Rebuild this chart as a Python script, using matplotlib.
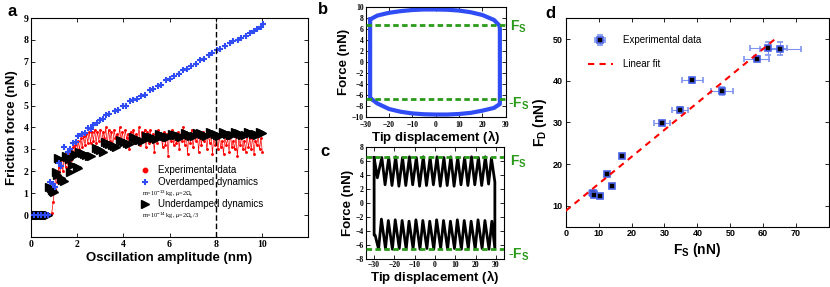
import numpy as np
import matplotlib
matplotlib.use("Agg")
import matplotlib.pyplot as plt

plt.rcParams['font.family'] = ['Liberation Sans', 'DejaVu Sans']
plt.rcParams['mathtext.fontset'] = 'custom'
plt.rcParams['mathtext.rm'] = 'Liberation Sans'
plt.rcParams['mathtext.bf'] = 'Liberation Sans:bold'
plt.rcParams['mathtext.it'] = 'Liberation Sans:italic'

# ---------------- panel a data ----------------
red_x0, red_dx = 0.90, 0.06
red_y = [0.1,0.6,1.2,1.9,1.5,2.2,1.8,2.5,2.0,2.7,2.2,2.9,2.4,2.9,2.5,3.1,2.7,3.2,2.8,3.4,
         3.0,3.5,3.1,3.6,3.2,3.7,3.3,3.8,3.3,3.8,3.4,3.9,3.3,3.8,3.4,
         3.9,3.3,3.8,3.5,4.0,3.2,3.9,3.4,3.8,3.1,3.9,3.5,3.7,3.3,4.0,3.4,3.8,3.2,3.9,3.5,
         3.7,3.0,3.8,3.4,3.9,3.3,3.7,3.5,4.0,3.2,3.8,3.4,3.9,3.1,
         3.8,3.3,3.9,3.4,3.7,2.9,3.8,3.3,3.9,3.5,3.6,3.1,3.8,3.2,3.7,2.7,3.8,3.4,3.9,3.2,
         3.6,3.3,3.8,3.0,3.7,3.4,4.0,3.2,3.8,2.8,3.7,3.3,3.9,3.1,3.6,3.4,3.8,2.9,3.7,3.2,
         3.8,3.4,3.6,3.0,3.7,3.3,3.8,2.8,3.6,3.2,
         3.5,3.0,3.6,3.1,3.4,2.8,3.6,3.2,3.5,2.9,3.7,3.1,3.4,3.0,3.6,2.7,3.5,3.2,3.6,3.0,
         3.4,2.9,3.7,3.1,3.5,3.0,3.6,2.8,3.4,3.2,3.6,3.0,3.5,2.9]
red_x = red_x0 + red_dx * np.arange(len(red_y))

over_x = [0.15,0.3,0.45,0.6,0.75,
          0.83,0.94,1.05,1.2,1.3,1.45,1.6,1.67,1.81,1.95,
          2.03,2.22,2.35,2.46,2.6,2.68,2.85,2.97,3.1,3.26,
          3.4,3.62,3.75,3.98,4.1,4.27,4.42,4.6,4.75,4.95,
          5.14,5.3,5.5,5.65,5.87,6.0,6.2,6.4,6.59,6.75,
          6.95,7.15,7.32,7.5,7.7,7.85,8.04,8.2,8.4,8.6,
          8.77,8.95,9.1,9.3,9.49,9.65,9.8,9.95,10.07]
over_y = [0,0,0,0,0,
          1.52,1.4,1.3,2.39,2.25,3.1,2.9,3.0,3.3,3.35,
          3.6,3.7,3.75,3.98,3.95,4.13,4.2,4.36,4.4,4.56,
          4.6,4.74,4.8,4.97,5.0,5.2,5.27,5.3,5.45,5.5,
          5.73,5.75,5.9,5.95,6.19,6.2,6.35,6.45,6.64,6.65,
          6.8,6.9,7.1,7.15,7.3,7.4,7.56,7.6,7.7,7.85,
          7.93,8.0,8.1,8.2,8.32,8.4,8.5,8.6,8.74]

under_x = [0.10,0.15,0.20,0.25,0.30,0.35,0.40,0.45,0.50,0.55,0.60,0.65,0.70,0.75,
           0.80,0.85,0.90,0.95,1.00,
           1.08,1.13,1.18,1.23,1.28,1.35,1.42,
           1.50,1.57,1.64,1.70,1.78,1.85,1.92,1.98,2.05,
           2.10,2.20,2.30,2.40,2.50,2.60,
           2.80,2.90,3.00,3.10,
           3.20,3.30,3.40,3.50,3.60,3.70,
           3.85,3.95,4.05,4.15,4.25,
           4.40,4.50,4.60,4.70,4.80,
           5.00,5.10,5.20,5.30,5.40,
           5.55,5.65,5.75,5.85,5.95,
           6.10,6.20,6.30,6.40,6.50,
           6.65,6.75,6.85,6.95,7.05,
           7.20,7.30,7.40,7.50,7.60,
           7.75,7.85,7.95,8.05,8.15,
           8.30,8.40,8.50,8.60,8.70,
           8.85,8.95,9.05,9.15,9.25,
           9.40,9.50,9.60,9.70,9.80,
           9.90,10.0]
under_y = [0,0,0,0,0,0,0,0,0,0,0,0,0,0,
           1.30,1.22,1.15,1.08,1.05,
           1.95,1.85,2.62,2.55,1.68,1.60,1.55,
           2.70,2.65,2.55,1.95,2.30,2.80,2.75,2.18,2.15,
           2.90,2.85,2.80,2.75,2.70,2.68,
           3.05,3.00,2.95,2.90,
           3.35,3.30,3.25,3.20,3.15,3.12,
           3.45,3.40,3.35,3.30,3.25,
           3.55,3.50,3.45,3.42,3.38,
           3.62,3.58,3.55,3.50,3.48,
           3.70,3.66,3.62,3.58,3.55,
           3.72,3.68,3.64,3.60,3.57,
           3.75,3.71,3.67,3.63,3.60,
           3.77,3.73,3.69,3.65,3.62,
           3.78,3.74,3.70,3.66,3.63,
           3.79,3.75,3.71,3.67,3.64,
           3.80,3.76,3.72,3.68,3.65,
           3.80,3.76,3.72,3.69,3.66,
           3.78,3.74]
a_vline = 8

# ---------------- panel b data ----------------
b_x = [-28.1,-25,-20,-15,-10,-5,0,5,10,15,20,25,27.3,27.5,
       27.5,25,20,15,10,5,0,-5,-10,-15,-20,-25,-28.1,-28.1,-28.1]
b_y = [7.7,8.4,8.9,9.2,9.4,9.5,9.5,9.45,9.3,9.0,8.5,7.6,6.6,6.0,
       -7.6,-8.3,-8.8,-9.2,-9.4,-9.5,-9.5,-9.45,-9.3,-9.0,-8.5,-7.5,-6.5,-6.2,7.7]
b_fs = 6.7

# ---------------- panel c data ----------------
c_x = [-30.0,-28.4,-26.2,-24.6,-22.8,-21.2,-19.4,-17.8,-16.0,-14.4,-12.6,-11.0,-9.2,-7.6,
       -5.8,-4.2,-2.4,-0.8,1.0,2.6,4.4,6.0,7.8,9.4,11.2,12.8,14.6,16.2,18.0,19.6,
       21.4,23.0,24.8,26.4,27.8,29.5,
       29.5,28.0,26.6,24.6,23.2,21.2,19.8,17.8,16.4,14.4,13.0,11.0,9.6,7.6,6.2,
       4.2,2.8,0.8,-0.6,-2.6,-4.0,-6.0,-7.4,-9.4,-10.8,-12.8,-14.2,-16.2,-17.6,
       -19.6,-21.0,-23.0,-24.4,-26.4,-27.8,-29.5,-30.0,-30.0]
c_y = [6.5,3.6,6.5,2.6,6.5,2.5,6.6,2.4,6.5,2.5,6.6,2.6,6.5,2.4,
       6.6,2.5,6.5,2.6,6.6,2.4,6.5,2.5,6.6,2.4,6.5,2.6,6.5,2.5,6.6,2.6,
       6.5,2.5,6.6,2.7,6.4,3.0,
       -6.5,-2.6,-6.6,-2.5,-6.5,-2.4,-6.6,-2.6,-6.5,-2.5,-6.6,-2.4,-6.5,-2.6,-6.6,
       -2.5,-6.5,-2.4,-6.6,-2.6,-6.5,-2.5,-6.6,-2.4,-6.5,-2.6,-6.6,-2.5,-6.5,
       -2.4,-6.6,-2.5,-6.5,-2.3,-6.6,-4.6,-4.6,6.5]
c_fs = 6.6

# ---------------- panel d data ----------------
d_fs = [8.2,8.7,10.5,12.7,14.0,17.2,29.3,34.7,38.5,47.4,58.0,61.5,65.2]
d_fd = [13.0,12.7,12.3,17.7,14.8,22.0,29.9,33.0,40.1,37.5,45.3,47.8,47.7]
d_xerr = [1.2,0.8,0.7,0.6,0.8,0.5,2.4,2.4,3.1,3.4,3.8,5.6,6.3]
d_yerr = [0.5,0.5,0.5,0.5,0.5,0.4,0.5,0.6,0.6,1.0,0.6,1.5,1.5]
fit_x = [0, 64.2]
fit_y = [8.8, 50.4]

# ---------------- styling ----------------
LABF = dict(fontsize=9.5, fontweight='bold')
GREEN = '#2a9a1a'
BLUE = '#2f4cf5'

fig = plt.figure(figsize=(8.3, 2.87), dpi=100)

def style_ax(ax, size, family='Liberation Serif', pad=2, xpad=None):
    ax.tick_params(direction='in', top=True, right=True, length=3, width=0.6, labelsize=size, pad=pad)
    if xpad is not None:
        ax.tick_params(axis='x', pad=xpad)
    for lab in ax.get_xticklabels() + ax.get_yticklabels():
        lab.set_fontfamily(family)
        lab.set_fontweight('bold')
    for s in ax.spines.values():
        s.set_linewidth(0.8)

# ----- panel a -----
axa = fig.add_axes([31/830, 1-237/287, 277/830, 219/287])
axa.plot(red_x, red_y, color='red', lw=0.5, marker='.', ms=2.2, zorder=2)
axa.plot(under_x, under_y, ls='none', marker='>', ms=5.2, color='black', zorder=3)
axa.plot(over_x, over_y, ls='none', marker='+', ms=5, mew=1.5, color=BLUE, zorder=4)
axa.axvline(a_vline, color='black', ls='--', lw=1.0, dashes=(4, 2), zorder=5)
axa.set_xlim(0, 12)
axa.set_ylim(-1, 9)
axa.set_xticks([0, 2, 4, 6, 8, 10])
axa.set_yticks(range(0, 10))
style_ax(axa, 7)
axa.set_xlabel('Oscillation amplitude (nm)', labelpad=2, fontsize=9.5, fontweight='bold')
axa.set_ylabel('Friction force (nN)', labelpad=4, fontsize=9.5, fontweight='bold')
lx, tx = 0.412, 0.458
axa.plot([lx], [0.306], transform=axa.transAxes, marker='o', ms=3.2, color='red', ls='none', clip_on=False)
axa.plot([lx], [0.251], transform=axa.transAxes, marker='+', ms=5, mew=1.5, color=BLUE, ls='none', clip_on=False)
axa.plot([lx], [0.151], transform=axa.transAxes, marker='>', ms=5.5, color='black', ls='none', clip_on=False)
for y, t in [(0.306, 'Experimental data'), (0.251, 'Overdamped dynamics'), (0.151, 'Underdamped dynamics')]:
    axa.text(tx, y, t, transform=axa.transAxes, fontsize=7, va='center', ha='left')
axa.text(0.400, 0.196, r'm=10$^{-13}$ kg, $\mu$=2$\Omega_c$', transform=axa.transAxes,
         fontsize=4.5, va='center', ha='left', family='Liberation Serif')
axa.text(0.400, 0.096, r'm=10$^{-14}$ kg, $\mu$=2$\Omega_c$/3', transform=axa.transAxes,
         fontsize=4.5, va='center', ha='left', family='Liberation Serif')
fig.text(12/830, 1-11/287, 'a', fontsize=12, fontweight='bold', ha='center', va='center')

# ----- panel b -----
axb = fig.add_axes([365.7/830, 1-117.3/287, 140/830, 110.6/287])
axb.plot(b_x, b_y, color=BLUE, lw=3.0, solid_joinstyle='round', zorder=2)
axb.axhline(b_fs, color=GREEN, ls='--', lw=2.0, dashes=(2, 1.2), zorder=3)
axb.axhline(-b_fs, color=GREEN, ls='--', lw=2.0, dashes=(2, 1.2), zorder=3)
axb.set_xlim(-30, 30)
axb.set_ylim(-10, 10)
axb.set_xticks([-30, -20, -10, 0, 10, 20, 30])
axb.set_yticks(range(-10, 11, 2))
style_ax(axb, 5.5, pad=1.5, xpad=3)
axb.set_xlabel(r'Tip displacement ($\mathbf{\lambda}$)', labelpad=-1, **LABF)
axb.set_ylabel('Force (nN)', labelpad=1, **LABF)
axb.text(32.0, 6.4, r'$\mathbf{F_S}$', color=GREEN, fontsize=10, va='center', ha='left', clip_on=False)
axb.text(31.0, -7.5, r'$\mathbf{\text{-}F_S}$', color=GREEN, fontsize=10, va='center', ha='left', clip_on=False)
fig.text(323/830, 1-10/287, 'b', fontsize=12, fontweight='bold', ha='center', va='center')

# ----- panel c -----
axc = fig.add_axes([366/830, 1-259/287, 138/830, 112/287])
axc.plot(c_x, c_y, color='black', lw=2.0, zorder=2)
axc.axhline(c_fs, color=GREEN, ls='--', lw=2.0, dashes=(2, 1.2), zorder=3)
axc.axhline(-c_fs, color=GREEN, ls='--', lw=2.0, dashes=(2, 1.2), zorder=3)
axc.set_xlim(-34, 34)
axc.set_ylim(-8, 8)
axc.set_xticks([-30, -20, -10, 0, 10, 20, 30])
axc.set_yticks(range(-8, 9, 2))
style_ax(axc, 5.5, pad=1.5)
axc.set_xlabel(r'Tip displacement ($\mathbf{\lambda}$)', labelpad=-0.5, **LABF)
axc.set_ylabel('Force (nN)', labelpad=1, **LABF)
axc.text(37.0, 5.9, r'$\mathbf{F_S}$', color=GREEN, fontsize=10, va='center', ha='left', clip_on=False)
axc.text(35.8, -7.4, r'$\mathbf{\text{-}F_S}$', color=GREEN, fontsize=10, va='center', ha='left', clip_on=False)
fig.text(325/830, 1-152/287, 'c', fontsize=12, fontweight='bold', ha='center', va='center')

# ----- panel d -----
axd = fig.add_axes([565.7/830, 1-226.7/287, 263.3/830, 208.4/287])
eb = axd.errorbar(d_fs, d_fd, xerr=d_xerr, yerr=d_yerr, fmt='s', ms=4.5, mfc='black',
                  mec='#4a62e8', mew=1.2, ecolor='#7f93f0', elinewidth=0.8, capsize=2, capthick=0.8,
                  label='Experimental data', zorder=3)
fl, = axd.plot(fit_x, fit_y, color='red', ls='--', lw=1.5, dashes=(3, 2.5), label='Linear fit', zorder=4)
axd.set_xlim(0, 80)
axd.set_ylim(5, 55)
axd.set_xticks(range(0, 80, 10))
axd.set_yticks([10, 20, 30, 40, 50])
style_ax(axd, 6.5, family='Liberation Sans')
axd.set_xlabel(r'F$_\mathbf{S}$ (nN)', labelpad=2, fontsize=10, fontweight='bold')
axd.set_ylabel(r'F$_\mathbf{D}$ (nN)', labelpad=3, fontsize=10, fontweight='bold')
leg = axd.legend([eb, fl], ['Experimental data', 'Linear fit'], loc='upper left',
                 bbox_to_anchor=(0.05, 0.96), frameon=False, fontsize=7,
                 handlelength=2.6, labelspacing=1.4, handletextpad=1.0)
fig.text(550/830, 1-14/287, 'd', fontsize=12, fontweight='bold', ha='center', va='center')

fig.savefig('out.png', dpi=100)
